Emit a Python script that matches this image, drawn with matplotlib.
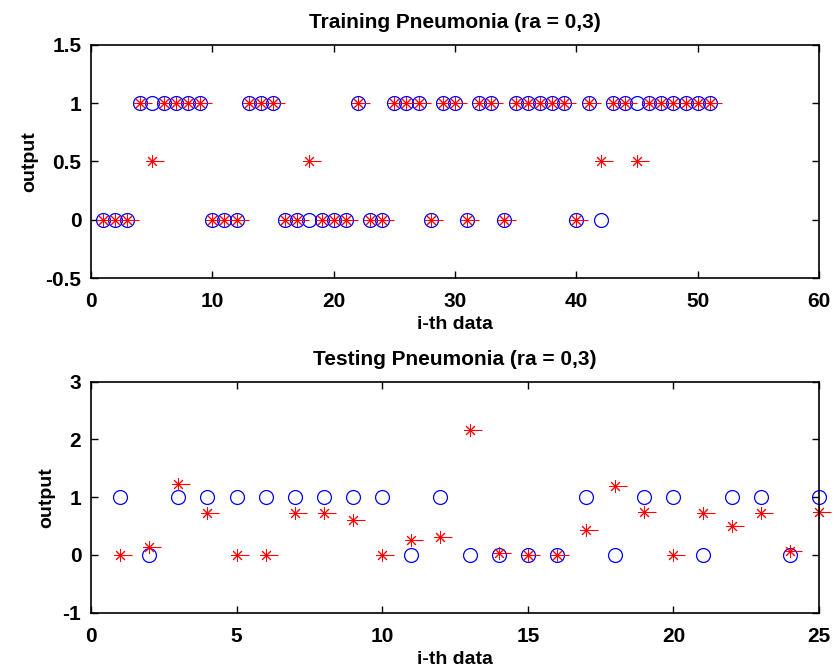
import numpy as np
import matplotlib
matplotlib.use('Agg')
import matplotlib.pyplot as plt

plt.rcParams['font.family'] = ['Liberation Sans', 'DejaVu Sans']
plt.rcParams['font.weight'] = 'bold'
plt.rcParams['font.size'] = 14

# training set: target vs network output
train_idx = np.arange(1, 52)
train_target = [0, 0, 0, 1, 1, 1, 1, 1, 1, 0,
                0, 0, 1, 1, 1, 0, 0, 0, 0, 0,
                0, 1, 0, 0, 1, 1, 1, 0, 1, 1,
                0, 1, 1, 0, 1, 1, 1, 1, 1, 0,
                1, 0, 1, 1, 1, 1, 1, 1, 1, 1,
                1]
train_output = [0, 0, 0, 1, 0.5, 1, 1, 1, 1, 0,
                0, 0, 1, 1, 1, 0, 0, 0.5, 0, 0,
                0, 1, 0, 0, 1, 1, 1, 0, 1, 1,
                0, 1, 1, 0, 1, 1, 1, 1, 1, 0,
                1, 0.5, 1, 1, 0.5, 1, 1, 1, 1, 1,
                1]

# testing set
test_idx = np.arange(1, 26)
test_target = [1, 0, 1, 1, 1, 1, 1, 1, 1, 1,
               0, 1, 0, 0, 0, 0, 1, 0, 1, 1,
               0, 1, 1, 0, 1]
test_output = [0.0, 0.14, 1.22, 0.73, 0.0, 0.0, 0.72, 0.73, 0.61, 0.0,
               0.26, 0.31, 2.16, 0.03, 0.0, 0.0, 0.44, 1.19, 0.75, 0.0,
               0.72, 0.50, 0.73, 0.06, 0.75]

asterisk = (8, 2, 0)


def draw(ax, x, target, output, title, xlim, ylim, yticks, xticks):
    ax.plot(x, target, 'o', mfc='none', mec='blue', ms=10, mew=0.9, clip_on=False)
    ax.plot(x, output, ls='none', marker=asterisk, color='red', ms=9, mew=0.7, clip_on=False)
    # short dash trailing each asterisk
    ax.plot(np.asarray(x) + 0.011 * (xlim[1] - xlim[0]), output, ls='none', marker='_',
            color='red', ms=6, mew=0.8, clip_on=False)
    ax.set_xlim(xlim)
    ax.set_ylim(ylim)
    ax.set_xticks(xticks)
    ax.set_yticks(yticks)
    ax.set_yticklabels([('%g' % v) for v in yticks])
    ax.set_title(title, fontsize=15, fontweight='bold', pad=12)
    ax.set_xlabel('i-th data', fontsize=14, fontweight='bold', labelpad=4)
    ax.set_ylabel('output', fontsize=14, fontweight='bold', labelpad=5)
    ax.tick_params(direction='in', top=True, right=True, length=5, width=1,
                   labelsize=15)
    ax.tick_params(axis='x', pad=10)
    ax.tick_params(axis='y', pad=7)
    for s in ax.spines.values():
        s.set_linewidth(1.2)


fig = plt.figure(figsize=(8.34, 6.70), dpi=100)
ax1 = fig.add_axes([0.1091, 0.585, 0.873, 0.348])
ax2 = fig.add_axes([0.1091, 0.0855, 0.873, 0.345])

draw(ax1, train_idx, train_target, train_output, 'Training Pneumonia (ra = 0,3)',
     (0, 60), (-0.5, 1.5), [-0.5, 0, 0.5, 1, 1.5], [0, 10, 20, 30, 40, 50, 60])
draw(ax2, test_idx, test_target, test_output, 'Testing Pneumonia (ra = 0,3)',
     (0, 25), (-1, 3), [-1, 0, 1, 2, 3], [0, 5, 10, 15, 20, 25])

fig.savefig('out.png', dpi=100)
